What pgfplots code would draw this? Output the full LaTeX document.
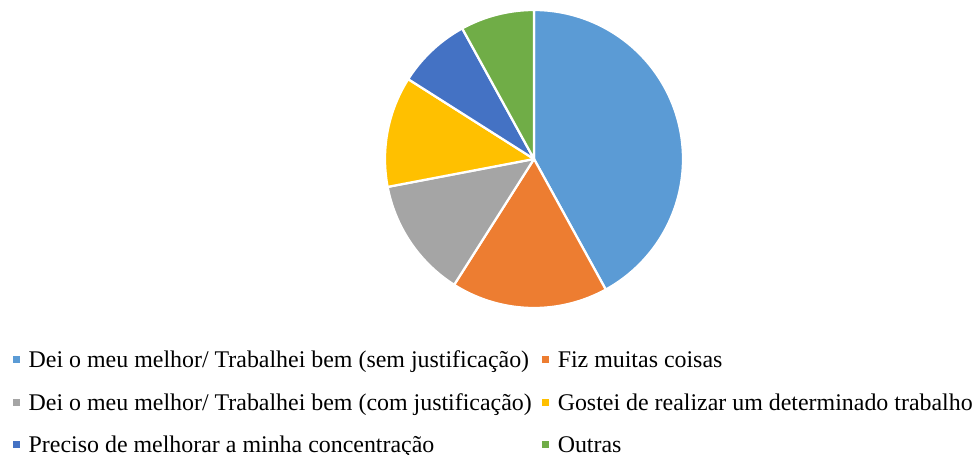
\documentclass[border=0pt]{standalone}
\usepackage{pgfplots}
\pgfplotsset{compat=1.18}
\usepackage{fontspec}
\setmainfont{Liberation Serif}
\definecolor{cA}{HTML}{5B9BD5}
\definecolor{cB}{HTML}{ED7D31}
\definecolor{cC}{HTML}{A5A5A5}
\definecolor{cD}{HTML}{FFC000}
\definecolor{cE}{HTML}{4472C4}
\definecolor{cF}{HTML}{70AD47}
% shares (%) : 42, 17, 13, 12, 8, 8  -> slice angles (degrees, counter-clockwise from +x)
\begin{document}
\begin{tikzpicture}
\useasboundingbox (0bp,0bp) rectangle (976bp,455bp);
\begin{axis}[
  at={(534bp,296bp)}, anchor=center,
  hide axis, scale only axis, width=298bp, height=298bp,
  xmin=-1, xmax=1, ymin=-1, ymax=1,
  clip=false,
  legend columns=2,
  legend cell align=left,
  legend image code/.code={\fill[#1,draw=none] (0bp,-1.5bp) rectangle (7bp,5.5bp);},
  legend style={draw=none, fill=none, inner sep=0pt,
    at={(axis description cs:-1.25,-0.1436)}, anchor=north west,
    font=\fontsize{24}{29}\selectfont,
    nodes={inner sep=0pt, text height=17bp, text depth=5bp},
    row sep=20.5bp,
    /tikz/every odd column/.append style={column sep=9bp},
    /tikz/every even column/.append style={column sep=10bp}},
  every axis plot/.append style={draw=white, line width=2.25bp, line join=round, samples=120},
]
\addplot[fill=cA, domain=-61.2:90] ({cos(x)},{sin(x)}) -- (axis cs:0,0) -- cycle;
\addlegendentry{Dei o meu melhor/ Trabalhei bem (sem justificação)}
\addplot[fill=cB, domain=-122.4:-61.2] ({cos(x)},{sin(x)}) -- (axis cs:0,0) -- cycle;
\addlegendentry{Fiz muitas coisas}
\addplot[fill=cC, domain=-169.2:-122.4] ({cos(x)},{sin(x)}) -- (axis cs:0,0) -- cycle;
\addlegendentry{Dei o meu melhor/ Trabalhei bem (com justificação)}
\addplot[fill=cD, domain=-212.4:-169.2] ({cos(x)},{sin(x)}) -- (axis cs:0,0) -- cycle;
\addlegendentry{Gostei de realizar um determinado trabalho}
\addplot[fill=cE, domain=-241.2:-212.4] ({cos(x)},{sin(x)}) -- (axis cs:0,0) -- cycle;
\addlegendentry{Preciso de melhorar a minha concentração}
\addplot[fill=cF, domain=-270:-241.2] ({cos(x)},{sin(x)}) -- (axis cs:0,0) -- cycle;
\addlegendentry{Outras}
\end{axis}
\end{tikzpicture}
\end{document}
